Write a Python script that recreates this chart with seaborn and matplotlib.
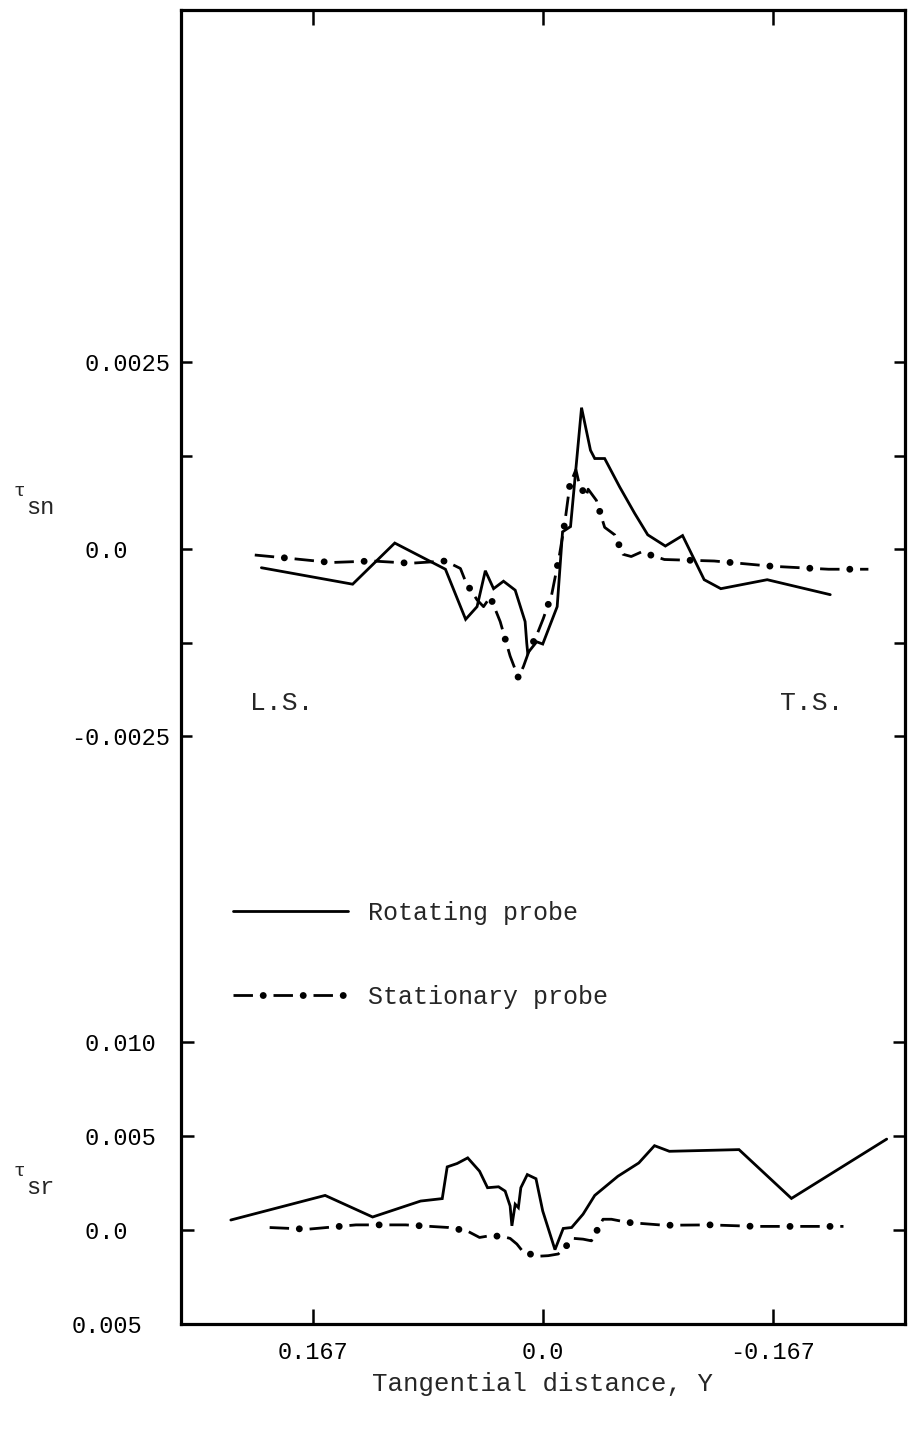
import matplotlib
matplotlib.use("Agg")
import matplotlib.pyplot as plt
import numpy as np
import pandas as pd
import seaborn as sns

# Shear stress distributions across the blade passage
# Upper panel: tau_sn, lower panel: tau_sr, versus tangential distance Y

# --- tau_sn, rotating probe ---
sn_rot_y = [0.2046, 0.1383, 0.1077, 0.0709, 0.0562, 0.0479, 0.0419, 0.0359,
            0.0287, 0.0202, 0.0130, 0.0118, 0.0111, 0.0046, 0.0002, -0.0103,
            -0.0142, -0.0200, -0.0280, -0.0345, -0.0376, -0.0448, -0.0557,
            -0.0665, -0.0761, -0.0889, -0.1014, -0.1171, -0.1292, -0.1629,
            -0.2087]
sn_rot_tau = [-0.00025, -0.00047, 0.00008, -0.00027, -0.00094, -0.00077,
              -0.00029, -0.00053, -0.00043, -0.00055, -0.00097, -0.00126,
              -0.00139, -0.00124, -0.00127, -0.00077, 0.00023, 0.00030,
              0.00189, 0.00132, 0.00121, 0.00121, 0.00083, 0.00048, 0.00019,
              0.00004, 0.00018, -0.00041, -0.00053, -0.00041, -0.00061]

# --- tau_sn, stationary probe ---
sn_sta_y = [0.2094, 0.1865, 0.1540, 0.1238, 0.0962, 0.0709, 0.0600, 0.0559,
            0.0479, 0.0432, 0.0383, 0.0311, 0.0239, 0.0179, 0.0142, 0.0099,
            0.0041, -0.0002, -0.0063, -0.0116, -0.0159, -0.0195, -0.0239,
            -0.0262, -0.0311, -0.0328, -0.0388, -0.0448, -0.0521, -0.0581,
            -0.0641, -0.0714, -0.0882, -0.1244, -0.1661, -0.2075, -0.2364]
sn_sta_tau = [-0.00008, -0.00012, -0.00018, -0.00016, -0.00019, -0.00016,
              -0.00026, -0.00045, -0.00068, -0.00077, -0.00064, -0.00097,
              -0.00143, -0.00172, -0.00157, -0.00135, -0.00113, -0.00093,
              -0.00061, -0.00012, 0.00036, 0.00086, 0.00106, 0.00088,
              0.00070, 0.00080, 0.00065, 0.00029, 0.00019, -0.00007,
              -0.00010, -0.00004, -0.00014, -0.00016, -0.00023, -0.00027,
              -0.00027]

# --- tau_sr, rotating probe ---
sr_rot_y = [0.2268, 0.1583, 0.1238, 0.0889, 0.0732, 0.0696, 0.0624, 0.0547,
            0.0461, 0.0403, 0.0323, 0.0275, 0.0239, 0.0226, 0.0202, 0.0179,
            0.0161, 0.0114, 0.0051, 0.0002, -0.0087, -0.0147, -0.0208,
            -0.0291, -0.0376, -0.0544, -0.0696, -0.0810, -0.0918, -0.1424,
            -0.1805, -0.2497]
sr_rot_tau = [0.00054, 0.00185, 0.00070, 0.00155, 0.00168, 0.00337, 0.00355,
              0.00385, 0.00314, 0.00226, 0.00231, 0.00208, 0.00129, 0.00023,
              0.00138, 0.00120, 0.00226, 0.00296, 0.00274, 0.00102, -0.00104,
              0.00009, 0.00014, 0.00085, 0.00185, 0.00287, 0.00358, 0.00450,
              0.00420, 0.00429, 0.00169, 0.00485]

# --- tau_sr, stationary probe ---
sr_sta_y = [0.1986, 0.1708, 0.1359, 0.0998, 0.0685, 0.0552, 0.0461, 0.0388,
            0.0299, 0.0239, 0.0190, 0.0142, 0.0034, -0.0038, -0.0111,
            -0.0171, -0.0224, -0.0291, -0.0352, -0.0400, -0.0436, -0.0497,
            -0.0617, -0.0882, -0.1212, -0.1545, -0.1901, -0.2183]
sr_sta_tau = [0.00014, 0.00005, 0.00028, 0.00028, 0.00014, -0.00004,
              -0.00039, -0.00030, -0.00033, -0.00044, -0.00074, -0.00118,
              -0.00139, -0.00136, -0.00127, -0.00083, -0.00044, -0.00048,
              -0.00057, 0.00009, 0.00058, 0.00058, 0.00041, 0.00026, 0.00028,
              0.00020, 0.00020, 0.00020]

x_ticks = [0.167, 0.0, -0.167]
x_tick_labels = ["0.167", "0.0", "-0.167"]
sn_ticks = [0.0025, 0.00125, 0.0, -0.00125, -0.0025]
sn_tick_labels = [" 0.0025", "", " 0.0", "", "-0.0025"]
sr_ticks = [0.010, 0.005, 0.0, -0.005]
sr_tick_labels = [" 0.010", " 0.005", " 0.0", "0.005"]
series_labels = ["Rotating probe", "Stationary probe"]

sns.set_style("white")
plt.rcParams["font.family"] = ["Liberation Mono", "DejaVu Sans"]
plt.rcParams["lines.scale_dashes"] = False
FS = 17

W, H = 909, 1431
fig = plt.figure(figsize=(W / 100, H / 100), dpi=100)
rect = [181 / W, 1 - 1324 / H, 724 / W, 1314 / H]
ax_sn = fig.add_axes(rect)
ax_sr = fig.add_axes(rect, sharex=ax_sn)
ax_sr.patch.set_visible(False)

LW = 2.0
# dash-dot pattern (points): long dash, gap, round dot, gap
DASH, PERIOD = 14.0, 28.8
DOT_OFFSET = PERIOD - (DASH + (PERIOD - DASH) / 2)


def draw(ax, xs, ys, style):
    df = pd.DataFrame({"Y": xs, "tau": ys})
    sns.lineplot(data=df, x="Y", y="tau", ax=ax, color="black", linewidth=LW,
                 sort=False, estimator=None)
    line = ax.lines[-1]
    line.set_solid_joinstyle("miter")
    if style == "solid":
        return line
    line.set_linestyle((0, (DASH, PERIOD - DASH)))
    line.set_dash_capstyle("butt")
    # dots between the dashes, drawn as a heavier round-capped stroke
    sns.lineplot(data=df, x="Y", y="tau", ax=ax, color="black", linewidth=5.0,
                 sort=False, estimator=None)
    dots = ax.lines[-1]
    dots.set_linestyle((DOT_OFFSET, (0.01, PERIOD - 0.01)))
    dots.set_dash_capstyle("round")
    return (line, dots)


h_rot = draw(ax_sn, sn_rot_y, sn_rot_tau, "solid")
h_sta = draw(ax_sn, sn_sta_y, sn_sta_tau, "dashdot")
draw(ax_sr, sr_rot_y, sr_rot_tau, "solid")
draw(ax_sr, sr_sta_y, sr_sta_tau, "dashdot")

ax_sn.set_xlim(0.263, -0.263)
ax_sn.set_ylim(-0.01036, 0.007206)
ax_sr.set_ylim(-0.005, 0.0650)

for ax in (ax_sn, ax_sr):
    ax.set_xlabel("")
    ax.set_ylabel("")

# frame
for s in ax_sn.spines.values():
    s.set_visible(True)
    s.set_color("black")
    s.set_linewidth(2.3)
for s in ax_sr.spines.values():
    s.set_visible(False)

# x axis ticks (top and bottom, inward)
ax_sn.set_xticks(x_ticks, x_tick_labels)
ax_sn.tick_params(axis="x", which="both", direction="in", top=True,
                  bottom=True, length=11, width=1.8, pad=12, labelsize=FS,
                  colors="black")
ax_sr.tick_params(axis="x", which="both", bottom=False, top=False,
                  labelbottom=False)

# y axis ticks
ax_sn.set_yticks(sn_ticks, sn_tick_labels)
ax_sn.tick_params(axis="y", direction="in", left=True, right=True,
                  length=8, width=1.8, pad=79, labelsize=FS, colors="black")
ax_sr.set_yticks(sr_ticks, sr_tick_labels)
ax_sr.tick_params(axis="y", direction="in", left=True, right=True,
                  length=9, width=1.8, pad=79, labelsize=FS, colors="black")
for ax in (ax_sn, ax_sr):
    for lbl in ax.get_yticklabels():
        lbl.set_horizontalalignment("left")

ax_sn.set_xlabel("Tangential distance, Y", fontsize=18.5, labelpad=6)


def ftext(px, py, s, **kw):
    fig.text(px / W, 1 - py / H, s, **kw)


# axis symbols
ftext(14, 492, "\u03c4", fontsize=14, va="center", ha="left")
ftext(26, 508, "sn", fontsize=FS, va="center", ha="left")
ftext(14, 1172, "\u03c4", fontsize=14, va="center", ha="left")
ftext(26, 1187, "sr", fontsize=FS, va="center", ha="left")

# side annotations
ftext(250, 703, "L.S.", fontsize=19, va="center", ha="left")
ftext(780, 703, "T.S.", fontsize=19, va="center", ha="left")

leg = fig.legend([h_rot, h_sta], series_labels, loc="center left",
                 bbox_to_anchor=(233 / W, 1 - 955 / H), frameon=False,
                 fontsize=18, handlelength=4.6, handletextpad=0.8,
                 labelspacing=2.4, borderpad=0, borderaxespad=0)

fig.savefig("out.png", dpi=100, facecolor="white")
